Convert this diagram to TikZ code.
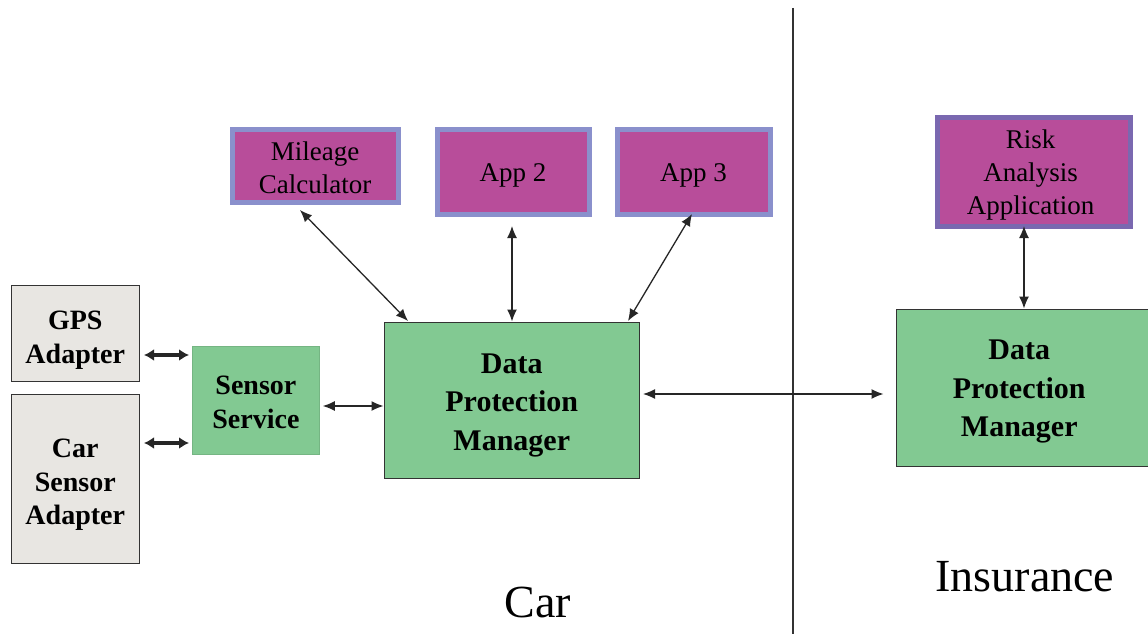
\documentclass[tikz,border=0pt]{standalone}
\usepackage{fontspec}
\setmainfont{Liberation Serif}
\usetikzlibrary{arrows.meta}
\definecolor{appfill}{HTML}{B84D9A}
\definecolor{appborder}{HTML}{8A90CC}
\definecolor{riskborder}{HTML}{7A68B0}
\definecolor{greenfill}{HTML}{82C992}
\definecolor{grayfill}{HTML}{E8E6E2}
\definecolor{darkline}{HTML}{333333}
\begin{document}
\begin{tikzpicture}[x=1pt,y=-1pt,
  box/.style={anchor=north west,inner sep=0pt},
  appbox/.style={box,fill=appfill,draw=appborder,line width=5pt},
  graybox/.style={box,fill=grayfill,draw=darkline,line width=1.5pt},
  greenbox/.style={box,fill=greenfill,draw=darkline,line width=1.5pt},
  apptext/.style={align=center,inner sep=0pt,font=\fontsize{27}{33}\selectfont},
  graytext/.style={align=center,inner sep=0pt,font=\fontsize{28}{33.5}\selectfont\bfseries},
  greentext/.style={align=center,inner sep=0pt,font=\fontsize{30}{38.5}\selectfont\bfseries},
  conn/.style={draw=black!85,line width=1.3pt,{Latex[length=12pt,width=10pt]}-{Latex[length=12pt,width=10pt]}},
  thick conn/.style={draw=black!85,line width=3.5pt,{Latex[length=10pt,width=12pt]}-{Latex[length=10pt,width=12pt]}},
  biglabel/.style={font=\fontsize{46}{50}\selectfont}
]
\useasboundingbox (0,0) rectangle (1148,634);
\fill[white] (0,0) rectangle (1148,634);

% divider
\draw[line width=1.5pt,darkline] (793,8) -- (793,634);

% app boxes
\node[appbox,minimum width=166pt,minimum height=73pt] (mil) at (229.5,126.5) {};
\node[apptext] (miltxt) at ([yshift=-2pt]mil.center) {Mileage\\Calculator};
\node[appbox,minimum width=152pt,minimum height=85pt] (app2) at (434.5,126.5) {};
\node[apptext] (app2txt) at ([yshift=-4pt]app2.center) {App 2};
\node[appbox,minimum width=153pt,minimum height=85pt] (app3) at (614.5,126.5) {};
\node[apptext] (app3txt) at ([yshift=-4pt]app3.center) {App 3};
\node[appbox,draw=riskborder,minimum width=193pt,minimum height=109pt] (risk) at (934.5,114.5) {};
\node[apptext] (risktxt) at ([yshift=-4pt,xshift=-3pt]risk.center) {Risk\\Analysis\\Application};

% gray adapters
\node[graybox,minimum width=128pt,minimum height=96pt] (gps) at (10.5,284.5) {};
\node[graytext] (gpstxt) at ([yshift=-7pt]gps.center) {GPS\\Adapter};
\node[graybox,minimum width=128pt,minimum height=169pt] (car) at (10.5,393.5) {};
\node[graytext] (cartxt) at ([yshift=-6pt]car.center) {Car\\Sensor\\Adapter};

% green boxes
\node[greenbox,draw=greenfill!90!black,line width=0.8pt,minimum width=127pt,minimum height=108pt] (sens) at (192,346) {};
\node[graytext,font=\fontsize{28}{34}\selectfont\bfseries] (senstxt) at ([yshift=-2pt]sens.center) {Sensor\\Service};
\node[greenbox,minimum width=255pt,minimum height=156pt] (dpm) at (383.5,321.5) {};
\node[greentext] (dpmtxt) at ([yshift=-5pt]dpm.center) {Data\\Protection\\Manager};
\node[greenbox,minimum width=260pt,minimum height=157pt] (dpm2) at (895.5,308.5) {};
\node[greentext] (dpm2txt) at ([yshift=-4pt,xshift=-7pt]dpm2.center) {Data\\Protection\\Manager};

% labels
\node[biglabel] (carlbl) at (538,602) {Car};
\node[biglabel] (inslbl) at (1025,577) {Insurance};

% connectors
\coordinate (g1) at (gps.east |- 0,355);
\coordinate (s1) at (sens.west |- 0,355);
\draw[thick conn] ([xshift=4pt]g1) -- ([xshift=-3pt]s1);
\coordinate (g2) at (car.east |- 0,443);
\coordinate (s2) at (sens.west |- 0,443);
\draw[thick conn] ([xshift=4pt]g2) -- ([xshift=-3pt]s2);
\coordinate (s3) at (sens.east |- 0,406);
\coordinate (d3) at (dpm.west |- 0,406);
\draw[conn] ([xshift=3pt]s3) -- (d3);

\coordinate (m1) at (300,210);
\coordinate (m2) at (408,321);
\draw[conn] (m1) -- (m2);
\coordinate (a2b) at (512,226);
\draw[conn] (a2b) -- (dpm.north -| a2b);
\coordinate (a3b) at (692,214);
\coordinate (a3d) at (628,321);
\draw[conn] (a3b) -- (a3d);

\coordinate (dd1) at (dpm.east |- 0,394);
\coordinate (dd2) at (dpm2.west |- 0,394);
\draw[conn] ([xshift=3pt]dd1) -- ([xshift=-12pt]dd2);

\coordinate (r1) at (1024,226);
\draw[conn] (r1) -- (dpm2.north -| r1);
\end{tikzpicture}
\end{document}
